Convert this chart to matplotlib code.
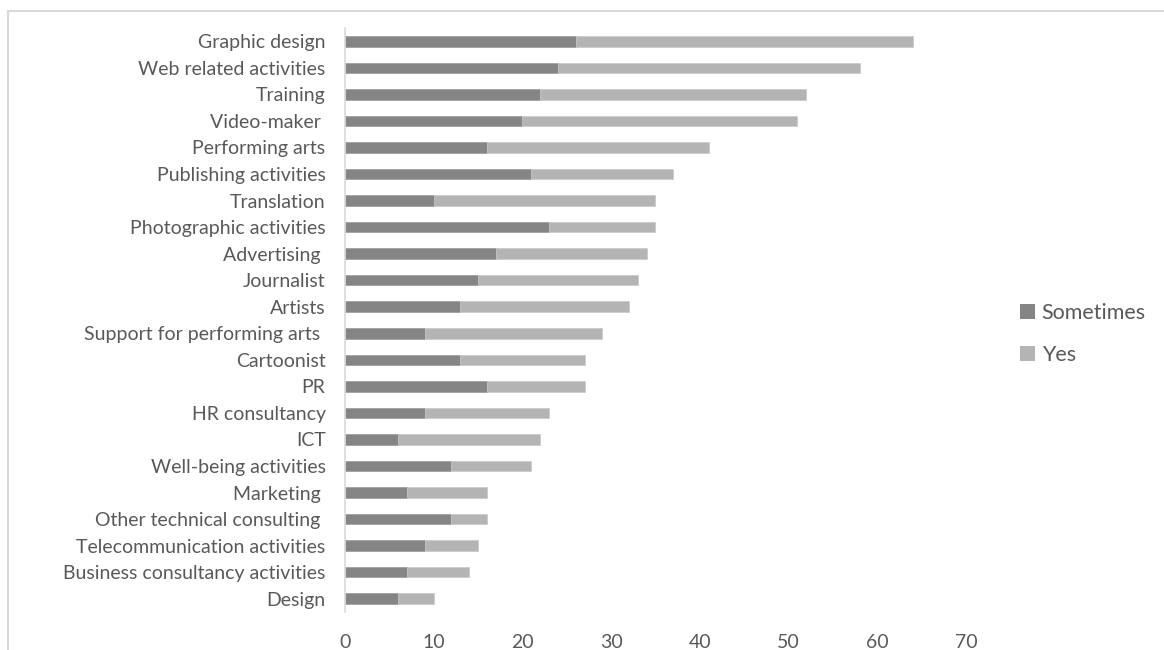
import numpy as np
import matplotlib.pyplot as plt
from matplotlib.patches import Patch, Rectangle

# categories, top to bottom as shown
CATEGORIES = [
    "Graphic design", "Web related activities", "Training", "Video-maker ",
    "Performing arts", "Publishing activities", "Translation",
    "Photographic activities", "Advertising ", "Journalist", "Artists",
    "Support for performing arts ", "Cartoonist", "PR", "HR consultancy",
    "ICT", "Well-being activities", "Marketing ", "Other technical consulting ",
    "Telecommunication activities", "Business consultancy activities", "Design",
]
SOMETIMES = [26, 24, 22, 20, 16, 21, 10, 23, 17, 15, 13, 9, 13, 16, 9, 6, 12, 7, 12, 9, 7, 6]
YES = [38, 34, 30, 31, 25, 16, 25, 12, 17, 18, 19, 20, 14, 11, 14, 16, 9, 9, 4, 6, 7, 4]
XTICKS = [0, 10, 20, 30, 40, 50, 60, 70]

DARK = '#858585'
LIGHT = '#b4b4b4'
TEXT = '#595959'
LINE = '#d9d9d9'


def main():
    plt.rcParams['font.family'] = ['Lato', 'DejaVu Sans']

    fig = plt.figure(figsize=(11.64, 6.5), dpi=100)
    ax = fig.add_axes([345 / 1164, 1 - 612 / 650, (966 - 345) / 1164, (612 - 28) / 650])

    # outer chart border, runs off the right and bottom edges
    fig.patches.append(Rectangle((8 / 1164, -0.1), 1.2, 1 - 10.5 / 650 + 0.1,
                                 transform=fig.transFigure, fill=False,
                                 edgecolor=LINE, linewidth=1.5))

    y = np.arange(len(CATEGORIES))
    sometimes = np.array(SOMETIMES)
    yes = np.array(YES)
    ax.barh(y, sometimes, height=0.4, color=DARK, edgecolor='#9a9a9a', linewidth=0.5, label='Sometimes')
    ax.barh(y, yes, left=sometimes, height=0.4, color=LIGHT, edgecolor='#c8c8c8', linewidth=0.5, label='Yes')

    ax.set_ylim(len(CATEGORIES) - 0.5, -0.5)
    ax.set_xlim(0, 70)
    ax.set_yticks(y)
    ax.set_yticklabels(CATEGORIES)
    ax.set_xticks(XTICKS)

    for side in ['top', 'right', 'bottom']:
        ax.spines[side].set_visible(False)
    ax.spines['left'].set_color(LINE)
    ax.spines['left'].set_linewidth(1.2)

    ax.tick_params(axis='y', length=0, pad=14, labelsize=14, labelcolor=TEXT)
    ax.tick_params(axis='x', length=0, pad=16, labelsize=14, labelcolor=TEXT)

    handles = [Patch(facecolor=DARK), Patch(facecolor=LIGHT)]
    fig.legend(handles, ['Sometimes', 'Yes'], loc='center left',
               bbox_to_anchor=(1020 / 1164, 1 - 334 / 650), frameon=False,
               fontsize=15.5, labelcolor=TEXT, handlelength=0.7, handleheight=0.7,
               handletextpad=0.3, labelspacing=1.05, borderpad=0, borderaxespad=0)

    fig.savefig('out.png', dpi=100, facecolor='white')


if __name__ == '__main__':
    main()
